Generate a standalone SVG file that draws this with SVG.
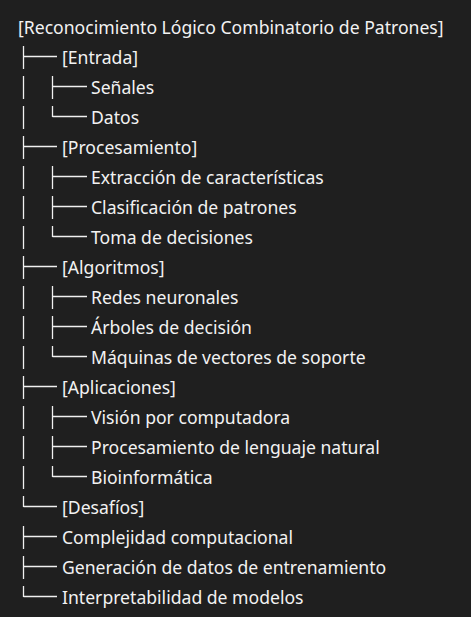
<svg xmlns="http://www.w3.org/2000/svg" width="471" height="617" viewBox="0 0 471 617">
<style>
text{font-family:"Noto Sans","Open Sans","Liberation Sans",sans-serif;font-size:17.6px;fill:#f2f2f2}
.c line{stroke:#f0f0f0;stroke-width:1.3}
</style>
<rect width="471" height="617" fill="#1f1f1f"/>
<g id="connectors" class="c">
<line x1="23.5" y1="46" x2="23.5" y2="69"/><line x1="23.5" y1="56.5" x2="57" y2="56.5"/>
<line x1="23.5" y1="76" x2="23.5" y2="99"/>
<line x1="23.5" y1="106" x2="23.5" y2="129"/>
<line x1="23.5" y1="136" x2="23.5" y2="159"/><line x1="23.5" y1="146.5" x2="57" y2="146.5"/>
<line x1="23.5" y1="166" x2="23.5" y2="189"/>
<line x1="23.5" y1="196" x2="23.5" y2="219"/>
<line x1="23.5" y1="226" x2="23.5" y2="249"/>
<line x1="23.5" y1="256" x2="23.5" y2="279"/><line x1="23.5" y1="266.5" x2="57" y2="266.5"/>
<line x1="23.5" y1="286" x2="23.5" y2="309"/>
<line x1="23.5" y1="316" x2="23.5" y2="339"/>
<line x1="23.5" y1="346" x2="23.5" y2="369"/>
<line x1="23.5" y1="376" x2="23.5" y2="399"/><line x1="23.5" y1="386.5" x2="57" y2="386.5"/>
<line x1="23.5" y1="406" x2="23.5" y2="429"/>
<line x1="23.5" y1="436" x2="23.5" y2="459"/>
<line x1="23.5" y1="466" x2="23.5" y2="489"/>
<line x1="23.5" y1="496" x2="23.5" y2="507"/><line x1="23.5" y1="506.5" x2="57" y2="506.5"/>
<line x1="23.5" y1="526" x2="23.5" y2="549"/><line x1="23.5" y1="536.5" x2="57" y2="536.5"/>
<line x1="23.5" y1="556" x2="23.5" y2="579"/><line x1="23.5" y1="566.5" x2="57" y2="566.5"/>
<line x1="23.5" y1="586" x2="23.5" y2="597"/><line x1="23.5" y1="596.5" x2="57" y2="596.5"/>
<line x1="52.5" y1="76" x2="52.5" y2="99"/><line x1="52.5" y1="86.5" x2="87" y2="86.5"/>
<line x1="52.5" y1="106" x2="52.5" y2="117"/><line x1="52.5" y1="116.5" x2="87" y2="116.5"/>
<line x1="52.5" y1="166" x2="52.5" y2="189"/><line x1="52.5" y1="176.5" x2="87" y2="176.5"/>
<line x1="52.5" y1="196" x2="52.5" y2="219"/><line x1="52.5" y1="206.5" x2="87" y2="206.5"/>
<line x1="52.5" y1="226" x2="52.5" y2="237"/><line x1="52.5" y1="236.5" x2="87" y2="236.5"/>
<line x1="52.5" y1="286" x2="52.5" y2="309"/><line x1="52.5" y1="296.5" x2="87" y2="296.5"/>
<line x1="52.5" y1="316" x2="52.5" y2="339"/><line x1="52.5" y1="326.5" x2="87" y2="326.5"/>
<line x1="52.5" y1="346" x2="52.5" y2="357"/><line x1="52.5" y1="356.5" x2="87" y2="356.5"/>
<line x1="52.5" y1="406" x2="52.5" y2="429"/><line x1="52.5" y1="416.5" x2="87" y2="416.5"/>
<line x1="52.5" y1="436" x2="52.5" y2="459"/><line x1="52.5" y1="446.5" x2="87" y2="446.5"/>
<line x1="52.5" y1="466" x2="52.5" y2="477"/><line x1="52.5" y1="476.5" x2="87" y2="476.5"/>
</g>
<g id="root"><text x="18" y="33.5">[Reconocimiento Lógico Combinatorio de Patrones]</text></g>
<g id="entrada"><text x="62" y="64">[Entrada]</text></g>
<g id="senales"><text x="91" y="94">Señales</text></g>
<g id="datos"><text x="91" y="124">Datos</text></g>
<g id="procesamiento"><text x="62" y="154">[Procesamiento]</text></g>
<g id="extraccion"><text x="91" y="184">Extracción de características</text></g>
<g id="clasificacion"><text x="91" y="214">Clasificación de patrones</text></g>
<g id="toma"><text x="91" y="244">Toma de decisiones</text></g>
<g id="algoritmos"><text x="62" y="274">[Algoritmos]</text></g>
<g id="redes"><text x="91" y="304">Redes neuronales</text></g>
<g id="arboles"><text x="91" y="334">Árboles de decisión</text></g>
<g id="maquinas"><text x="91" y="364">Máquinas de vectores de soporte</text></g>
<g id="aplicaciones"><text x="62" y="394">[Aplicaciones]</text></g>
<g id="vision"><text x="91" y="424">Visión por computadora</text></g>
<g id="pln"><text x="91" y="454">Procesamiento de lenguaje natural</text></g>
<g id="bioinformatica"><text x="91" y="484">Bioinformática</text></g>
<g id="desafios"><text x="62" y="514">[Desafíos]</text></g>
<g id="complejidad"><text x="62" y="544">Complejidad computacional</text></g>
<g id="generacion"><text x="62" y="574">Generación de datos de entrenamiento</text></g>
<g id="interpretabilidad"><text x="62" y="604">Interpretabilidad de modelos</text></g>
</svg>
